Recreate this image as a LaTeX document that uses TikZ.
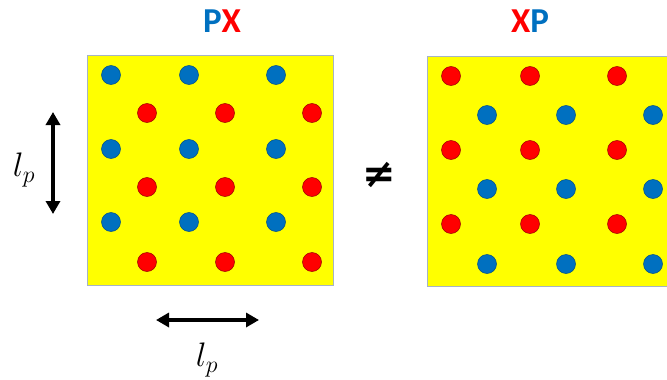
\RequirePackage{fix-cm}
\documentclass[tikz,border=0pt]{standalone}
\usepackage{fontspec}
\newfontfamily\carlito{Carlito}
\newfontfamily\dejavu{DejaVu Sans}
\usetikzlibrary{arrows.meta}
\definecolor{pblue}{HTML}{0070C0}
\definecolor{xred}{HTML}{FF0000}
\definecolor{bgyellow}{HTML}{FFFF00}
\definecolor{frame}{HTML}{A6B4C4}
\tikzset{
  panel/.style={fill=bgyellow, draw=frame, line width=0.8pt},
  bdot/.style={circle, fill=pblue, draw=pblue!70!black, line width=0.5pt, minimum size=19pt, inner sep=0pt},
  rdot/.style={circle, fill=xred, draw=xred!60!black, line width=0.5pt, minimum size=19pt, inner sep=0pt},
  title/.style={font=\carlito\bfseries\fontsize{35}{38}\selectfont, inner sep=0pt},
  lbl/.style={font=\fontsize{34}{38}\selectfont, inner sep=0pt},
  dimarrow/.style={line width=3.6pt, {Triangle[width=14pt,length=13pt]}-{Triangle[width=14pt,length=13pt]}},
}
\begin{document}
\begin{tikzpicture}[x=1pt,y=-1pt]
\clip (0,0) rectangle (667,380);
% panels
\draw[panel] (87,55) rectangle (333,285);
\draw[panel] (427,56) rectangle (680,286);
% titles
\node[title] (t1) at (222,21) {\textcolor{pblue}{P}\textcolor{xred}{X}};
\node[title] (t2) at (530,21) {\textcolor{xred}{X}\textcolor{pblue}{P}};
% left panel dots
\foreach \i/\x in {1/111,2/189,3/276}{
  \foreach \j/\y in {1/75,2/149,3/222}{
    \node[bdot] (lb\i\j) at (\x,\y) {};
  }
}
\foreach \i/\x in {1/147,2/225,3/312}{
  \foreach \j/\y in {1/113,2/187,3/262}{
    \node[rdot] (lr\i\j) at (\x,\y) {};
  }
}
% right panel dots
\foreach \i/\x in {1/451,2/530,3/617}{
  \foreach \j/\y in {1/76,2/150,3/224}{
    \node[rdot] (rr\i\j) at (\x,\y) {};
  }
}
\foreach \i/\x in {1/487,2/566,3/653}{
  \foreach \j/\y in {1/115,2/189,3/264}{
    \node[bdot] (rb\i\j) at (\x,\y) {};
  }
}
% not equal
\node[font=\dejavu\bfseries\fontsize{40}{42}\selectfont, inner sep=0pt] (neq) at (379,175) {≠};
% arrows
\coordinate (vtop) at (53,112);
\coordinate (vbot) at (53,214);
\draw[dimarrow] (vtop) -- (vbot);
\coordinate (hl) at (156,320);
\coordinate (hr) at (259,320);
\draw[dimarrow] (hl) -- (hr);
% labels
\node[lbl] (lp1) at (24,170) {$l_p$};
\node[lbl] (lp2) at (207,360) {$l_p$};
\end{tikzpicture}
\end{document}
